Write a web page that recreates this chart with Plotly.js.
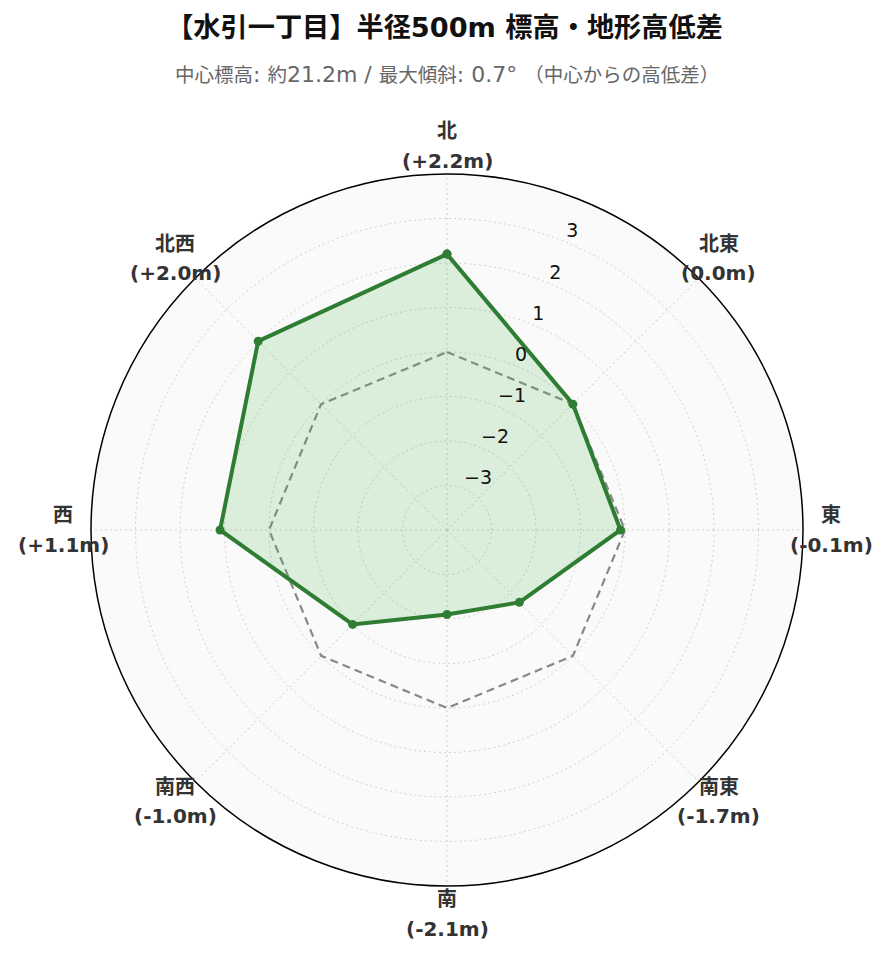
<!DOCTYPE html>
<html>
<head>
<meta charset="utf-8">
<script src="https://cdn.plot.ly/plotly-3.0.1.min.js"></script>
<style>html,body{margin:0;padding:0;background:#fff;}#chart{width:889px;height:962px;}</style>
</head>
<body>
<div id="chart"></div>
<script>
const directions = ["北", "北東", "東", "南東", "南", "南西", "西", "北西"];
const diffs = [2.2, 0.0, -0.1, -1.7, -2.1, -1.0, 1.1, 2.0];
const diffLabels = ["(+2.2m)", "(0.0m)", "(-0.1m)", "(-1.7m)", "(-2.1m)", "(-1.0m)", "(+1.1m)", "(+2.0m)"];
const zeroRef = [0, 0, 0, 0, 0, 0, 0, 0];
const radialTicks = [-3, -2, -1, 0, 1, 2, 3];
const radialRange = [-4, 4];
const radialAxisAngle = 67.5;
const titleText = "【水引一丁目】半径500m 標高・地形高低差";
const subtitleText = "中心標高: 約21.2m / 最大傾斜: 0.7° （中心からの高低差）";

const FONT = "DejaVu Sans, Noto Sans CJK JP, sans-serif";
const closeArr = a => a.concat([a[0]]);
const angles = directions.map((_, i) => i * 360 / directions.length);

// wrap CJK runs in a smaller span (reference font has wide latin glyphs, compact CJK)
function mixSizes(text, cjkSize) {
  const re = /([\u3000-\u30ff\u3400-\u9fff\uff00-\uffef]+)/g;
  return text.replace(re, '<span style="font-size:' + cjkSize + 'px">$1</span>');
}
const fmtTick = v => (v < 0 ? "\u2212" + Math.abs(v) : String(v));

const traces = [
  {
    type: "scatterpolar",
    r: closeArr(zeroRef),
    theta: closeArr(angles),
    mode: "lines",
    line: {color: "#888888", width: 2.2, dash: "8px,5px"},
    hoverinfo: "skip",
    showlegend: false
  },
  {
    type: "scatterpolar",
    r: closeArr(diffs),
    theta: closeArr(angles),
    mode: "lines+markers",
    fill: "toself",
    fillcolor: "rgba(76,175,80,0.18)",
    line: {color: "#2e7d32", width: 4},
    marker: {color: "#2e7d32", size: 9},
    text: closeArr(directions),
    hovertemplate: "%{text}: %{r}m<extra></extra>",
    showlegend: false
  },
  {
    // radial tick labels, drawn upright next to the radial axis
    type: "scatterpolar",
    r: radialTicks,
    theta: radialTicks.map(() => 90 - radialAxisAngle),
    mode: "text",
    text: radialTicks.map(fmtTick),
    textposition: "top right",
    textfont: {size: 19, color: "#111111", family: FONT},
    hoverinfo: "skip",
    cliponaxis: false,
    showlegend: false
  }
];

// direction labels placed around the circle, centred like the reference
const annotations = [];
const labelR = 0.5 * 384 / 356;
const lineOff = 14.75 / 712;
directions.forEach((d, i) => {
  const ang = angles[i] * Math.PI / 180;
  const cx = 0.5 + labelR * Math.sin(ang);
  const cy = 0.5 + labelR * Math.cos(ang);
  annotations.push({
    text: "<b>" + d + "</b>", xref: "paper", yref: "paper",
    x: cx, y: cy + lineOff, xanchor: "center", yanchor: "middle",
    showarrow: false, font: {size: 20, color: "#333333", family: FONT}
  });
  annotations.push({
    text: "<b>" + diffLabels[i] + "</b>", xref: "paper", yref: "paper",
    x: cx, y: cy - lineOff, xanchor: "center", yanchor: "middle",
    showarrow: false, font: {size: 20, color: "#333333", family: FONT}
  });
});
annotations.push({
  text: mixSizes(subtitleText, 19.5),
  xref: "paper", yref: "paper",
  x: 0.5, xanchor: "center",
  y: 1 + (174 - 75) / 712, yanchor: "middle",
  showarrow: false,
  font: {size: 22, color: "#666666", family: FONT}
});

const layout = {
  width: 889,
  height: 962,
  paper_bgcolor: "#ffffff",
  font: {family: FONT, color: "#333333"},
  margin: {l: 91, r: 86, t: 174, b: 76},
  showlegend: false,
  title: {
    text: "<b>" + titleText + "</b>",
    x: 0.5, xanchor: "center",
    y: 1 - 27 / 962, yanchor: "middle", yref: "container",
    font: {size: 27.2, color: "#111111", family: FONT}
  },
  annotations: annotations,
  polar: {
    bgcolor: "#fafafa",
    domain: {x: [0, 1], y: [0, 1]},
    angularaxis: {
      tickmode: "array",
      tickvals: angles,
      direction: "clockwise",
      rotation: 90,
      showline: true,
      linecolor: "#000000",
      linewidth: 1.5,
      showgrid: true,
      gridcolor: "#cfcfcf",
      griddash: "2px,3px",
      showticklabels: false,
      ticks: ""
    },
    radialaxis: {
      range: radialRange,
      angle: radialAxisAngle,
      tickvals: radialTicks,
      showline: false,
      showgrid: true,
      gridcolor: "#cfcfcf",
      griddash: "2px,3px",
      showticklabels: false,
      ticks: ""
    }
  }
};

Plotly.newPlot("chart", traces, layout, {displayModeBar: false, responsive: false});
</script>
</body>
</html>
